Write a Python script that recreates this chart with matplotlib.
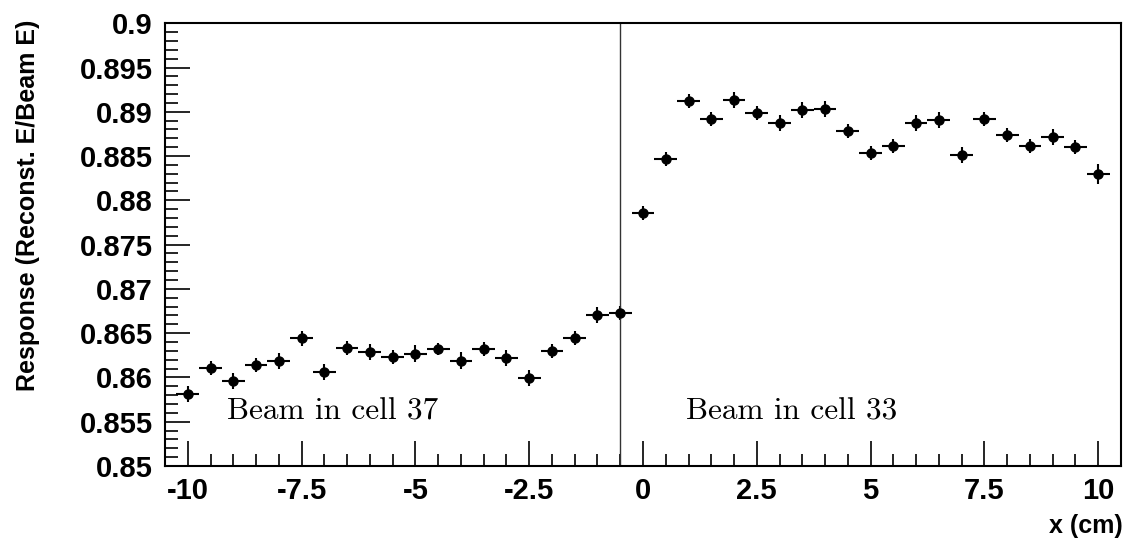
import matplotlib.pyplot as plt
from matplotlib.ticker import MultipleLocator, FixedLocator

# bin centres (cm) and response values
x_pos = [-10, -9.5, -9, -8.5, -8, -7.5, -7, -6.5, -6, -5.5, -5, -4.5, -4, -3.5,
         -3, -2.5, -2, -1.5, -1, -0.5, 0, 0.5, 1, 1.5, 2, 2.5, 3, 3.5, 4, 4.5,
         5, 5.5, 6, 6.5, 7, 7.5, 8, 8.5, 9, 9.5, 10]
response = [0.8581, 0.8611, 0.8596, 0.8614, 0.8619, 0.8644, 0.8606, 0.8633,
            0.8629, 0.8623, 0.8627, 0.8632, 0.8619, 0.8632, 0.8622, 0.8599,
            0.8630, 0.8645, 0.8671, 0.8673, 0.8786, 0.8847, 0.8912, 0.8892,
            0.8913, 0.8899, 0.8887, 0.8902, 0.8903, 0.8878, 0.8853, 0.8861,
            0.8887, 0.8891, 0.8851, 0.8892, 0.8874, 0.8861, 0.8871, 0.8860,
            0.8830]
resp_err = [0.0009, 0.0008, 0.0009, 0.0008, 0.0009, 0.0008, 0.0009, 0.0008,
            0.0009, 0.0008, 0.0010, 0.0007, 0.0010, 0.0008, 0.0009, 0.0009,
            0.0008, 0.0008, 0.0009, 0.0008, 0.0008, 0.0008, 0.0008, 0.0008,
            0.0009, 0.0008, 0.0009, 0.0009, 0.0009, 0.0008, 0.0008, 0.0008,
            0.0009, 0.0009, 0.0009, 0.0008, 0.0008, 0.0008, 0.0009, 0.0008,
            0.0011]
x_err = 0.25

xticks = [-10, -7.5, -5, -2.5, 0, 2.5, 5, 7.5, 10]
xtick_labels = ['-10', '-7.5', '-5', '-2.5', '0', '2.5', '5', '7.5', '10']
yticks = [0.85, 0.855, 0.86, 0.865, 0.87, 0.875, 0.88, 0.885, 0.89, 0.895, 0.9]
ytick_labels = ['0.85', '0.855', '0.86', '0.865', '0.87', '0.875', '0.88',
                '0.885', '0.89', '0.895', '0.9']

plt.rcParams['font.family'] = ['Liberation Sans', 'DejaVu Sans']
plt.rcParams['font.weight'] = 'bold'

fig = plt.figure(figsize=(11.25, 5.4), dpi=100)
ax = fig.add_axes([0.1467, 0.137, 0.8497, 0.820])

ax.errorbar(x_pos, response, xerr=x_err, yerr=resp_err, fmt='o', color='black',
            markersize=6.5, elinewidth=1.5, capsize=0)

ax.axvline(-0.5, color='#333333', linewidth=1.0)

ax.set_xlim(-10.5, 10.5)
ax.set_ylim(0.85, 0.9)

ax.xaxis.set_major_locator(FixedLocator(xticks))
ax.set_xticklabels(xtick_labels)
ax.xaxis.set_minor_locator(MultipleLocator(0.5))
ax.yaxis.set_major_locator(FixedLocator(yticks))
ax.set_yticklabels(ytick_labels)
ax.yaxis.set_minor_locator(MultipleLocator(0.001))

ax.tick_params(which='both', direction='in', top=False, right=False,
               width=1.2, labelsize=21)
ax.tick_params(which='major', length=18)
ax.tick_params(which='minor', length=9)
ax.tick_params(axis='x', pad=8)
ax.tick_params(axis='y', pad=9)
for side in ax.spines.values():
    side.set_linewidth(1.5)

# ROOT style: axis titles pushed to the end of the axis
ax.set_ylabel('Response (Reconst. E/Beam E)', fontsize=18, fontweight='bold')
ax.yaxis.set_label_coords(-0.131, 1.007)
ax.yaxis.label.set_horizontalalignment('right')
ax.set_xlabel('x (cm)', fontsize=18, fontweight='bold')
ax.xaxis.set_label_coords(1.002, -0.108)
ax.xaxis.label.set_horizontalalignment('right')

ax.text(-9.14, 0.8552, 'Beam in cell 37', family='cmr10', fontsize=22.5,
        fontweight='normal')
ax.text(0.945, 0.8552, 'Beam in cell 33', family='cmr10', fontsize=22.5,
        fontweight='normal')

plt.savefig('out.png')
